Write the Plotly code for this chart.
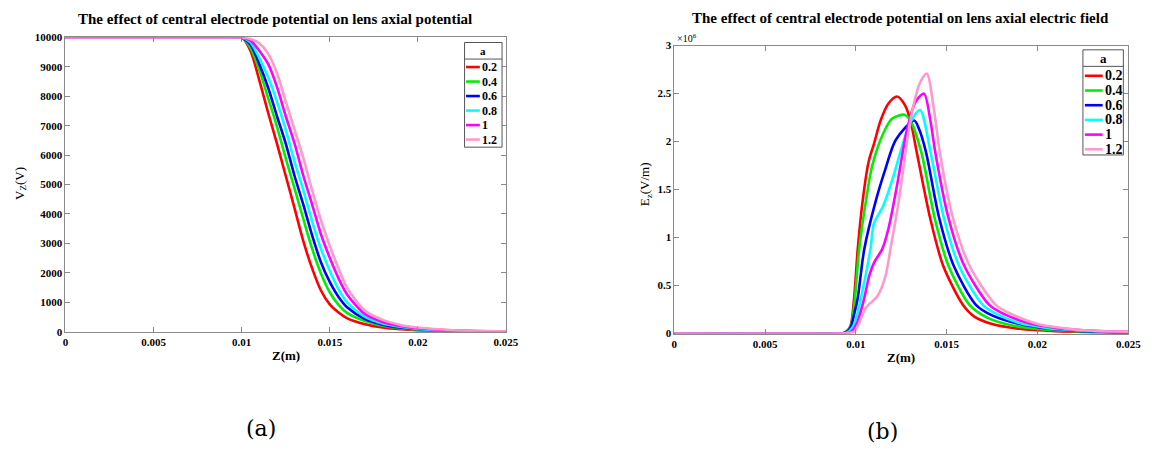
import plotly.graph_objects as go

W, H = 1162, 455

# ---------------- data ----------------
a_labels = ["0.2", "0.4", "0.6", "0.8", "1", "1.2"]
line_colors = ["#FF0000", "#00EE00", "#0000FF", "#00FFFF", "#FF00FF", "#FF99CC"]

# (a) axial potential V_Z (V) vs Z (m)
z_pot = [0, 0.009, 0.010, 0.0105, 0.011, 0.0115, 0.012, 0.0125, 0.013, 0.0135, 0.014,
         0.0145, 0.015, 0.0155, 0.016, 0.017, 0.018, 0.019, 0.020, 0.022, 0.025]
V_02 = [10000, 10000, 10000, 9550, 8550, 7450, 6400, 5300, 4200, 3080, 2150,
        1400, 930, 650, 450, 250, 140, 80, 45, 15, 0]
V_04 = [10000, 10000, 10000, 9650, 8900, 7950, 6980, 5900, 4870, 3830, 2820,
        1980, 1340, 910, 630, 360, 200, 115, 65, 22, 3]
V_06 = [10000, 10000, 10000, 9750, 9100, 8300, 7330, 6400, 5300, 4320, 3270,
        2360, 1690, 1180, 820, 430, 240, 140, 80, 28, 5]
V_08 = [10000, 10000, 10000, 9830, 9300, 8660, 7830, 6870, 5790, 4810, 3750,
        2820, 2070, 1440, 990, 500, 280, 165, 95, 35, 7]
V_10 = [10000, 10000, 10000, 9900, 9550, 9100, 8330, 7330, 6400, 5300, 4320,
        3310, 2510, 1810, 1250, 600, 330, 190, 115, 42, 9]
V_12 = [10000, 10000, 10000, 9950, 9800, 9450, 8800, 7830, 6870, 5900, 4810,
        3790, 2920, 2150, 1480, 720, 400, 230, 140, 50, 12]

# (b) axial electric field E_z (x10^6 V/m) vs Z (m)
zE_02 = [0, 0.009, 0.0094, 0.0097, 0.0099, 0.0101, 0.01037, 0.0107, 0.0110, 0.01136, 0.0118,
         0.01227, 0.0127, 0.0130, 0.01335, 0.01408, 0.0148, 0.01589, 0.0165, 0.0175, 0.019,
         0.021, 0.025]
E_02 = [0, 0, 0.01, 0.08, 0.37, 0.88, 1.38, 1.79, 1.98, 2.22, 2.40,
        2.47, 2.38, 2.22, 1.89, 1.21, 0.71, 0.30, 0.18, 0.10, 0.05,
        0.025, 0.01]
zE_04 = [0, 0.009, 0.0094, 0.0097, 0.0099, 0.01018, 0.01055, 0.0109, 0.01154, 0.0120, 0.01267,
         0.0130, 0.0136, 0.01433, 0.01509, 0.01625, 0.0172, 0.0185, 0.020, 0.022, 0.025]
E_04 = [0, 0, 0.01, 0.07, 0.28, 0.88, 1.38, 1.75, 2.10, 2.24, 2.28,
        2.22, 1.89, 1.21, 0.71, 0.30, 0.17, 0.09, 0.05, 0.025, 0.01]
zE_06 = [0, 0.009, 0.0094, 0.0097, 0.0099, 0.0101, 0.01046, 0.01109, 0.0116, 0.0122, 0.01321,
         0.0135, 0.01386, 0.01458, 0.01538, 0.01661, 0.0175, 0.019, 0.0205, 0.022, 0.025]
E_06 = [0, 0, 0.01, 0.06, 0.2, 0.37, 0.88, 1.38, 1.70, 2.02, 2.22,
        2.12, 1.89, 1.21, 0.71, 0.30, 0.19, 0.10, 0.055, 0.03, 0.012]
zE_08 = [0, 0.009, 0.0095, 0.0098, 0.0100, 0.01028, 0.0108, 0.0110, 0.0115, 0.0120, 0.01245,
         0.0130, 0.01353, 0.01411, 0.01484, 0.01567, 0.01698, 0.0178, 0.019, 0.0205, 0.022,
         0.025]
E_08 = [0, 0, 0.01, 0.06, 0.15, 0.37, 0.88, 1.15, 1.33, 1.6, 1.89,
        2.2, 2.33, 1.89, 1.21, 0.71, 0.30, 0.20, 0.11, 0.06, 0.035,
        0.015]
zE_10 = [0, 0.009, 0.0095, 0.0098, 0.0101, 0.01046, 0.01073, 0.0110, 0.01145, 0.0118, 0.01227,
         0.01281, 0.0133, 0.01375, 0.0141, 0.01437, 0.01509, 0.01596, 0.01734, 0.0182, 0.0195,
         0.021, 0.0225, 0.025]
E_10 = [0, 0, 0.005, 0.03, 0.13, 0.37, 0.6, 0.74, 0.88, 1.1, 1.55,
        2.12, 2.42, 2.5, 2.22, 1.89, 1.21, 0.71, 0.30, 0.20, 0.11,
        0.06, 0.035, 0.018]
zE_12 = [0, 0.009, 0.0095, 0.0099, 0.0101, 0.01055, 0.01118, 0.01163, 0.0119, 0.01236, 0.013,
         0.0135, 0.0139, 0.0143, 0.01462, 0.01534, 0.01625, 0.0177, 0.0186, 0.020, 0.0215,
         0.023, 0.025]
E_12 = [0, 0, 0.005, 0.02, 0.08, 0.27, 0.39, 0.6, 0.88, 1.38, 2.22,
        2.6, 2.71, 2.33, 1.89, 1.21, 0.71, 0.30, 0.2, 0.1, 0.055,
        0.03, 0.02]

x_tickvals = [0, 0.005, 0.01, 0.015, 0.02, 0.025]
x_ticktext = ["0", "0.005", "0.01", "0.015", "0.02", "0.025"]
V_tickvals = [0, 1000, 2000, 3000, 4000, 5000, 6000, 7000, 8000, 9000, 10000]
V_ticktext = ["0", "1000", "2000", "3000", "4000", "5000", "6000", "7000", "8000",
              "9000", "10000"]
E_tickvals = [0, 0.5, 1, 1.5, 2, 2.5, 3]
E_ticktext = ["0", "0.5", "1", "1.5", "2", "2.5", "3"]

V_series = [V_02, V_04, V_06, V_08, V_10, V_12]
zE_series = [zE_02, zE_04, zE_06, zE_08, zE_10, zE_12]
E_series = [E_02, E_04, E_06, E_08, E_10, E_12]

# ---------------- figure ----------------
SERIF = "Liberation Serif, Times New Roman, serif"
fig = go.Figure()

for lab, col, V in zip(a_labels, line_colors, V_series):
    fig.add_trace(go.Scatter(x=z_pot, y=V, mode="lines", name=lab, showlegend=False,
                             line=dict(color=col, width=2.6, shape="spline", smoothing=0.8),
                             xaxis="x", yaxis="y"))
for lab, col, zz, E in zip(a_labels, line_colors, zE_series, E_series):
    fig.add_trace(go.Scatter(x=zz, y=E, mode="lines", name=lab, showlegend=False,
                             line=dict(color=col, width=2.6, shape="spline", smoothing=0.8),
                             xaxis="x2", yaxis="y2"))


def px(x):
    return x / W


def py(y):
    return 1 - y / H


def axis_common():
    return dict(showline=True, mirror="ticks", linecolor="#8a8a8a", linewidth=1,
                ticks="inside", ticklen=5, tickcolor="#8a8a8a", showgrid=False,
                zeroline=False,
                tickfont=dict(family=SERIF, size=11, color="black", weight="bold"))


fig.update_layout(
    width=W, height=H, margin=dict(l=0, r=0, t=0, b=0),
    paper_bgcolor="white", plot_bgcolor="white", showlegend=False,
    xaxis=dict(domain=[px(63.3), px(510)], range=[0, 0.025], tickvals=x_tickvals,
               ticktext=x_ticktext, anchor="y", **axis_common()),
    yaxis=dict(domain=[py(334.5), py(32.3)], range=[0, 10000], tickvals=V_tickvals,
               ticktext=V_ticktext, anchor="x", **axis_common()),
    xaxis2=dict(domain=[px(680.7), px(1141)], range=[0, 0.025], tickvals=x_tickvals,
                ticktext=x_ticktext, anchor="y2", **axis_common()),
    yaxis2=dict(domain=[py(336.5), py(40.7)], range=[0, 3], tickvals=E_tickvals,
                ticktext=E_ticktext, anchor="x2", **axis_common()),
)

ann = []
shapes = []


def text(x, y, t, size, bold=False, angle=0, family=SERIF, xanchor="center"):
    ann.append(dict(x=px(x), y=py(y), xref="paper", yref="paper", text=t, showarrow=False,
                    xanchor=xanchor, yanchor="middle", textangle=angle,
                    font=dict(family=family, size=size, color="black",
                              weight="bold" if bold else "normal")))


# titles
text(275.5, 13, "The effect of central electrode potential on lens axial potential", 15, True)
text(910, 12, "The effect of central electrode potential on lens axial electric field", 15, True)
# axis titles
text(286.5, 359, "Z(m)", 13, True)
text(911, 361, "Z(m)", 13, True)
text(17, 182, "V<sub>Z</sub>(V)", 13, False, -90)
text(651, 183, "E<sub>z</sub>(V/m)", 13, False, -90)
text(694, 33, "×10<sup>6</sup>", 10)
# captions
text(262, 434, "(a)", 22, family="DejaVu Serif")
text(892, 437, "(b)", 22, family="DejaVu Serif")


def legend(x0, x1, y0, y1, ydiv, yhead, ystart, step, sw0, sw1, tx, fsize):
    shapes.append(dict(type="rect", xref="paper", yref="paper", x0=px(x0), x1=px(x1),
                       y0=py(y1), y1=py(y0), line=dict(color="#555555", width=1),
                       fillcolor="white", layer="above"))
    shapes.append(dict(type="line", xref="paper", yref="paper", x0=px(x0), x1=px(x1),
                       y0=py(ydiv), y1=py(ydiv), line=dict(color="#555555", width=1),
                       layer="above"))
    text((x0 + x1) / 2, yhead, "a", fsize - 1, True)
    for i, (lab, col) in enumerate(zip(a_labels, line_colors)):
        yy = ystart + i * step
        shapes.append(dict(type="line", xref="paper", yref="paper", x0=px(sw0), x1=px(sw1),
                           y0=py(yy), y1=py(yy), line=dict(color=col, width=2.6),
                           layer="above"))
        text(tx, yy, lab, fsize, True, xanchor="left")


legend(468, 506, 37.5, 145, 54.5, 46, 62.7, 14.9, 469.5, 483.5, 483.5, 12)
legend(1095, 1136, 45, 153, 62, 54, 71.7, 15.1, 1097, 1115, 1115, 14)

fig.update_layout(annotations=ann, shapes=shapes)
fig.write_html("out.html")
